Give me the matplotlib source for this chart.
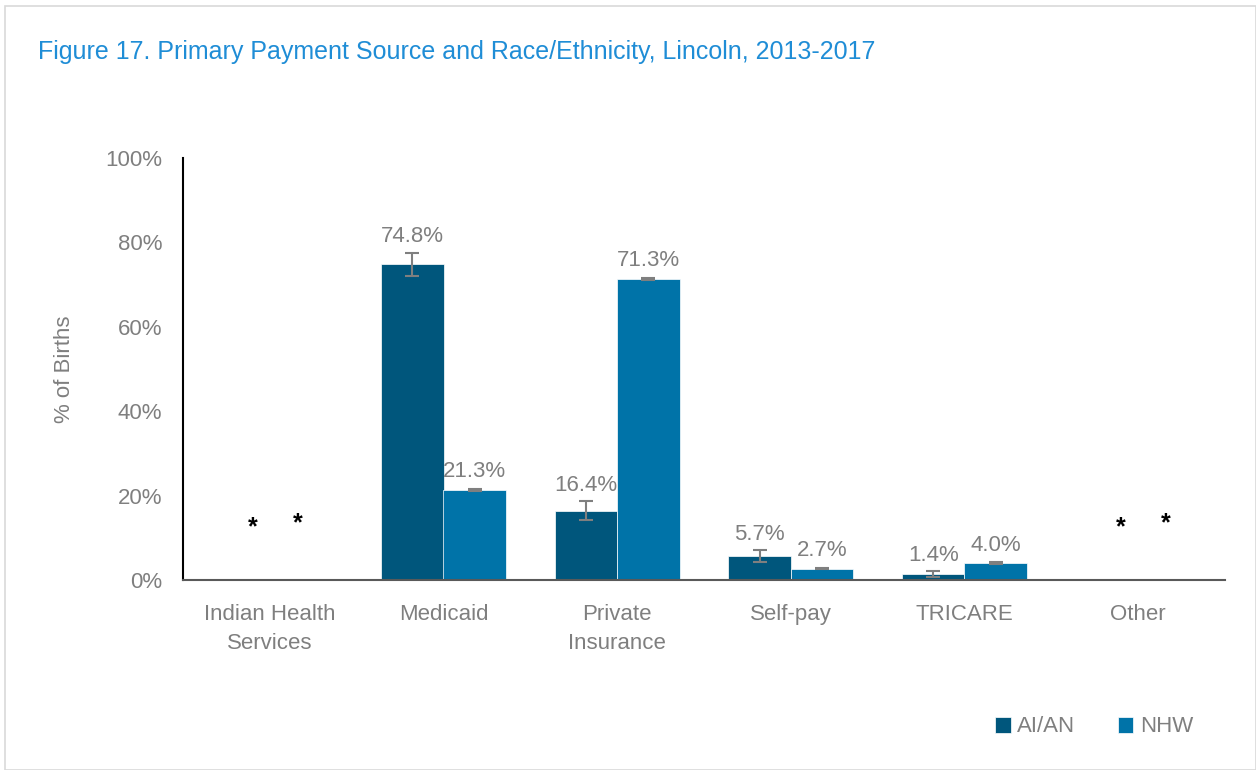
import numpy as np
import matplotlib.pyplot as plt
from matplotlib import font_manager
from matplotlib.patches import Rectangle

# =======================================================
# DATA
# =======================================================

CATEGORIES = ["Indian Health\nServices", "Medicaid", "Private\nInsurance",
              "Self-pay", "TRICARE", "Other"]
AIAN = [0.0, 74.8, 16.4, 5.7, 1.4, 0.0]
NHW = [0.0, 21.3, 71.3, 2.7, 4.0, 0.0]
AIAN_ERR = [0.0, 2.8, 2.3, 1.4, 0.8, 0.0]
NHW_ERR = [0.0, 0.3, 0.3, 0.2, 0.2, 0.0]
SUPPRESSED_AIAN = [True, False, False, False, False, True]
SUPPRESSED_NHW = [True, False, False, False, False, True]

C_AIAN = "#00567c"
C_NHW = "#0073a8"
GRAY = "#7f7f7f"

# =======================================================
# FONT
# =======================================================

names = {f.name for f in font_manager.fontManager.ttflist}
FONT = "Liberation Sans Narrow" if "Liberation Sans Narrow" in names else "Liberation Sans"
plt.rcParams["font.family"] = [FONT, "DejaVu Sans"]

# =======================================================
# PLOT
# =======================================================

fig = plt.figure(figsize=(12.56, 7.70), dpi=100)
ax = fig.add_axes([183 / 1256, 1 - 580 / 770, 1042 / 1256, 422 / 770])

# light frame round the whole chart
fig.patches.append(Rectangle((5 / 1256, 0), 1 - 5 / 1256, 1 - 6 / 770,
                             transform=fig.transFigure, fill=False,
                             edgecolor="#d9d9d9", linewidth=1.2))

x = np.arange(len(CATEGORIES))
w = 0.36
ekw = dict(ecolor=GRAY, elinewidth=1.5, capsize=5, capthick=1.5)

b1 = ax.bar(x - w / 2, AIAN, w, color=C_AIAN, label="AI/AN",
            edgecolor="white", linewidth=0.5)
b2 = ax.bar(x + w / 2, NHW, w, color=C_NHW, label="NHW",
            edgecolor="white", linewidth=0.5)

for i in range(len(x)):
    if not SUPPRESSED_AIAN[i]:
        ax.errorbar(x[i] - w / 2, AIAN[i], yerr=AIAN_ERR[i], fmt="none", **ekw)
        ax.text(x[i] - w / 2, AIAN[i] + AIAN_ERR[i] + 1.2, f"{AIAN[i]:.1f}%",
                ha="center", va="bottom", fontsize=16, color=GRAY)
    else:
        ax.text(x[i] - w / 2 + 0.08, 12.5, "*", ha="center", va="center",
                fontsize=18, color="black", fontweight="bold")
    if not SUPPRESSED_NHW[i]:
        ax.errorbar(x[i] + w / 2, NHW[i], yerr=NHW_ERR[i], fmt="none", **ekw)
        ax.text(x[i] + w / 2, NHW[i] + NHW_ERR[i] + 1.6, f"{NHW[i]:.1f}%",
                ha="center", va="bottom", fontsize=16, color=GRAY)
    else:
        ax.text(x[i] + w / 2 - 0.02, 13.5, "*", ha="center", va="center",
                fontsize=18, color="black", fontweight="bold")

ax.set_xlim(-0.5, len(x) - 0.5)
ax.set_ylim(0, 100)
ax.set_yticks(range(0, 101, 20))
ax.set_yticklabels([f"{v}%" for v in range(0, 101, 20)])
ax.set_xticks(x)
ax.set_xticklabels(CATEGORIES, linespacing=1.5)
ax.tick_params(axis="both", length=0, labelsize=16, labelcolor=GRAY)
ax.tick_params(axis="y", pad=15)
ax.tick_params(axis="x", pad=17)

for s in ["top", "right"]:
    ax.spines[s].set_visible(False)
ax.spines["left"].set_color("black")
ax.spines["left"].set_linewidth(1.5)
ax.spines["bottom"].set_color("#595959")
ax.spines["bottom"].set_linewidth(1.5)

ax.set_ylabel("% of Births", fontsize=16, color=GRAY, labelpad=22)

fig.text(38 / 1256, 1 - 52 / 770,
         "Figure 17. Primary Payment Source and Race/Ethnicity, Lincoln, 2013-2017",
         fontsize=18, color="#1f8dd6", va="center", ha="left")

fig.legend(handles=[b1, b2], loc="center right",
           bbox_to_anchor=(1213 / 1256, 1 - 727 / 770), ncol=2, frameon=False,
           fontsize=16, labelcolor=GRAY, handlelength=0.7, handleheight=0.7,
           handletextpad=0.3, columnspacing=1.9)

fig.savefig("out.png", dpi=100, facecolor="white")
